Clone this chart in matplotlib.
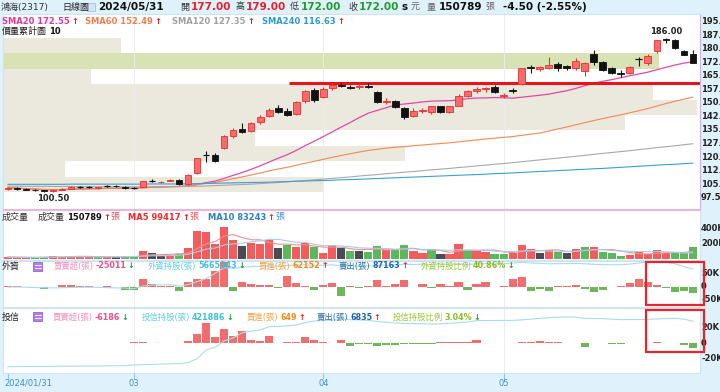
import numpy as np
import pandas as pd
import matplotlib
matplotlib.use("Agg")
import matplotlib.pyplot as plt
from matplotlib.patches import Rectangle

W, H = 720, 392
FAM = ["DejaVu Sans", "Noto Sans CJK TC"]

# 日K資料 2024/01/31 ~ 2024/05/31
opens = [102.5, 103.0, 102.5, 102.0, 101.5, 101.0, 101.5, 102.5, 103.5, 103.5,
         103.0, 104.0, 104.0, 103.5, 103.0, 103.5, 107.0, 106.0, 107.0, 107.5,
         105.0, 111.0, 121.0, 121.0, 125.0, 131.5, 135.5, 134.5, 139.5, 142.5,
         147.0, 145.5, 144.0, 151.0, 157.0, 153.0, 158.0, 160.0, 159.0, 158.5,
         159.5, 156.0, 150.5, 151.0, 147.0, 142.5, 145.5, 145.0, 148.0, 145.0,
         148.5, 154.0, 156.5, 157.5, 159.0, 154.0, 157.0, 160.5, 170.0, 168.5,
         169.5, 171.5, 170.5, 169.5, 167.5, 177.0, 172.5, 169.5, 166.5, 166.5,
         174.0, 172.0, 178.5, 185.5, 185.0, 178.5, 177.0]
highs = [103.5, 103.5, 103.0, 102.5, 102.0, 102.0, 103.0, 104.0, 104.0, 104.0,
         103.5, 104.5, 104.5, 104.0, 103.5, 107.0, 108.0, 107.0, 108.0, 108.0,
         110.5, 119.5, 123.5, 122.5, 132.0, 136.0, 139.0, 139.5, 143.0, 147.0,
         149.0, 147.0, 151.0, 157.0, 158.0, 158.5, 161.0, 161.5, 160.0, 160.5,
         161.0, 156.5, 152.5, 151.5, 147.5, 147.0, 147.0, 148.5, 148.5, 148.5,
         155.0, 157.0, 158.5, 159.0, 160.0, 155.5, 158.0, 169.5, 171.0, 170.5,
         175.5, 172.5, 171.0, 175.0, 172.5, 179.5, 173.0, 170.0, 168.0, 170.5,
         175.5, 177.0, 185.0, 186.0, 185.5, 179.0, 179.0]
lows = [102.0, 102.0, 101.5, 101.0, 100.8, 100.5, 101.5, 102.5, 103.0, 103.0,
        102.5, 103.5, 103.5, 102.5, 102.5, 103.5, 106.0, 105.5, 106.5, 104.5,
        104.5, 110.5, 117.5, 117.0, 124.5, 130.5, 133.5, 134.0, 138.5, 142.0,
        144.5, 142.5, 143.5, 150.0, 150.5, 152.5, 157.0, 158.5, 157.5, 157.5,
        158.0, 150.0, 149.5, 147.0, 141.0, 142.0, 144.5, 144.0, 144.5, 144.5,
        148.0, 153.0, 155.5, 156.0, 155.5, 152.5, 155.5, 160.0, 166.5, 167.5,
        168.5, 167.5, 168.0, 168.0, 165.0, 171.0, 167.5, 166.0, 164.5, 166.0,
        170.5, 171.0, 177.5, 183.0, 180.0, 176.5, 172.0]
closes = [103.0, 102.5, 102.0, 101.5, 101.0, 101.5, 102.5, 103.5, 103.5, 103.5,
          103.3, 104.0, 103.8, 103.0, 103.0, 106.5, 107.0, 106.3, 107.5, 105.0,
          110.0, 119.5, 121.0, 118.0, 131.5, 135.0, 134.0, 139.0, 142.0, 146.0,
          145.0, 143.5, 150.5, 156.5, 151.5, 157.5, 160.0, 159.5, 158.0, 159.5,
          158.5, 150.5, 151.0, 147.5, 142.0, 145.5, 146.0, 148.0, 145.0, 148.0,
          154.0, 156.5, 157.5, 158.0, 156.0, 154.5, 156.5, 169.0, 169.5, 170.0,
          171.0, 169.5, 169.5, 173.0, 172.0, 172.5, 168.0, 166.5, 166.0, 170.0,
          174.0, 176.0, 184.5, 185.0, 180.5, 176.5, 172.0]

sma120 = [103.9, 103.9, 103.8, 103.8, 103.8, 103.7, 103.7, 103.7, 103.6, 103.6,
          103.6, 103.5, 103.5, 103.5, 103.5, 103.5, 103.5, 103.5, 103.6, 103.6,
          103.7, 103.8, 104.0, 104.2, 104.4, 104.6, 104.8, 105.0, 105.3, 105.6,
          105.9, 106.3, 106.6, 107.0, 107.4, 107.8, 108.2, 108.6, 109.0, 109.5,
          109.9, 110.3, 110.8, 111.2, 111.6, 112.0, 112.4, 112.9, 113.3, 113.7,
          114.2, 114.6, 115.1, 115.5, 116.0, 116.4, 116.9, 117.4, 117.9, 118.4,
          118.9, 119.4, 119.9, 120.4, 120.9, 121.5, 122.0, 122.5, 123.0, 123.5,
          124.1, 124.6, 125.2, 125.7, 126.2, 126.8, 127.35]
sma240 = [104.9, 104.9, 104.9, 104.9, 104.9, 104.9, 104.9, 105.0, 105.0, 105.0,
          105.0, 105.0, 105.0, 105.0, 105.0, 105.0, 105.1, 105.1, 105.1, 105.1,
          105.2, 105.3, 105.4, 105.5, 105.6, 105.7, 105.8, 105.9, 106.0, 106.1,
          106.3, 106.4, 106.6, 106.7, 106.9, 107.0, 107.2, 107.4, 107.5, 107.7,
          107.9, 108.1, 108.3, 108.5, 108.7, 108.9, 109.1, 109.3, 109.5, 109.7,
          109.9, 110.1, 110.3, 110.5, 110.8, 111.0, 111.2, 111.5, 111.7, 112.0,
          112.2, 112.5, 112.7, 113.0, 113.2, 113.5, 113.7, 114.0, 114.3, 114.6,
          114.9, 115.2, 115.5, 115.8, 116.0, 116.3, 116.63]

# 成交量(千張) 與顏色 r漲 g跌 k平
volume = [25, 22, 18, 17, 30, 39, 30, 43, 30, 26, 22, 22, 30, 39, 30,
          104, 74, 43, 52, 65, 147, 364, 355, 199, 420, 247, 173, 212, 190, 247,
          139, 182, 152, 203, 160, 74, 182, 147, 108,
          100, 95, 173, 117, 117, 182, 104, 74, 130, 65, 61, 190, 117, 117, 95,
          65, 65, 74, 182, 130, 74, 117, 95, 74, 130, 160, 156, 95, 74, 43, 52,
          87, 65, 117, 82, 82, 74, 150.789]
vol_dir = ("rrrggrrrrrgrkgg"
           "rkkrgrrrrrrkrrrkgrrgrrkg"
           "kggrggrrgkrrgrrggrrrkrgkrgrgggrrrrrggg")

# 外資 買賣超(千張) / 持股(千張)
foreign_net = [2, 2, -3, -5, -8, -3, 4, 6, 3, 2,
               -2, 1, -2, -12, -12, 28, 10, 2, 1, -18,
               17, 31, 31, 63, 100, -16, 17, 10, 5, 5,
               -5, 41, 14, 3, -14, 7, 14, -36, 1, -5,
               2, 24, 1, 10, 27, -3, 10, -5, 8, 1,
               17, -14, 10, 17, -3, 3, 28, 38, -17, -11,
               -17, 2, 2, 5, -8, -20, -14, -3, 2, 14,
               28, 17, 7, -7, -23, -17, -25.011]
foreign_hold = [5476, 5478, 5476, 5472, 5470, 5468, 5470, 5473, 5475, 5476,
                5474, 5471, 5468, 5466, 5460, 5488, 5498, 5500, 5502, 5486,
                5503, 5534, 5566, 5622, 5680, 5672, 5685, 5692, 5695, 5698,
                5695, 5705, 5708, 5710, 5703, 5706, 5710, 5698, 5698, 5697,
                5698, 5706, 5706, 5709, 5716, 5714, 5717, 5714, 5717, 5717,
                5722, 5716, 5719, 5723, 5721, 5722, 5728, 5736, 5730, 5726,
                5721, 5722, 5723, 5725, 5722, 5716, 5712, 5711, 5712, 5718,
                5730, 5740, 5742, 5738, 5722, 5692, 5665.8]

# 投信 買賣超(千張)
trust_net = [0.3, 0.5, 0.2, 0.2, 0.1, 0.2, 0.3, 0.2, 0.1, 0.2,
             0.2, 0.3, 0.2, 0.3, 2.0, 1.5, 0.3, 1.0, 0.5, 0.8,
             3.0, 12.0, 26.0, 7.5, 19.0, 9.0, 15.5, 4.4, 3.5, 10.0,
             0.5, 2.0, 2.0, 7.5, 4.4, 2.0, 0.5, 4.4, -3.0, -0.5,
             -1.5, -3.0, -2.5, -2.0, -1.5, -0.3, -0.3, -1.5, 1.3, 1.3,
             2.0, 1.5, 4.4, 0.3, 0.2, 0.1, 0.2, 1.5, 2.0, 2.5,
             2.0, 1.5, 0.2, 0.3, -4.4, -0.2, -0.2, -1.5, -1.5, 0.2,
             0.2, 0.2, 1.5, 1.0, 1.0, -2.5, -6.186]
trust_hold_end = 421.886

# 價量累計圖 (由下而上 10 區, 千張)
profile_vol = [760, 147, 955, 600, 1480, 1650, 1545, 210, 1560, 280]

price_ticks = [195.0, 187.5, 180.0, 172.5, 165.0, 157.5, 150.0, 142.5,
               135.0, 127.5, 120.0, 112.5, 105.0, 97.5]
month_idx = [0, 14, 35, 55]
month_lbl = ["2024/01/31", "03", "04", "05"]

x = np.arange(len(closes))
RED, GRN = '#e8202a', '#1f9d2a'

fig = plt.figure(figsize=(7.2, 3.92), dpi=100)
fig.patch.set_facecolor('#dff1fb')
renderer = fig.canvas.get_renderer()


def px_axes(x0, y0, x1, y1):
    ax = fig.add_axes([x0 / W, 1 - y1 / H, (x1 - x0) / W, (y1 - y0) / H])
    ax.set_facecolor('white')
    ax.set_xticks([])
    ax.set_yticks([])
    for s in ax.spines.values():
        s.set_color('#cfe3f1')
        s.set_linewidth(0.8)
    ax.set_xlim(-0.55, 76.8)
    for m in month_idx[1:]:
        ax.axvline(m, color='#ececec', lw=0.7, zorder=0.6)
    return ax


def put(px, py, s, color='#333', size=6.0, bold=False, ha='left'):
    return fig.text(px / W, 1 - py / H, s, color=color, fontsize=size, ha=ha, va='center',
                    fontweight='bold' if bold else 'normal', family=FAM)


def after(t, s, color='#333', size=6.0, bold=False, gap=1.5):
    bb = t.get_window_extent(renderer)
    py = H - (bb.y0 + bb.y1) / 2
    return put(bb.x1 + gap, py, s, color, size, bold)


def rlabel(ax, v, s):
    ax.text(1.0015, v, s, transform=ax.get_yaxis_transform(), fontsize=6,
            fontweight='bold', color='#222', ha='left', va='center',
            clip_on=False, family=FAM)


# ---- 價格 ----
ax_p = px_axes(3, 14, 700, 209)
ax_p.set_ylim(91.24, 199.15)
ax_p.spines['right'].set_color('#cdb0e6')
ax_p.spines['bottom'].set_color('#e9b6da')

edges = np.linspace(min(lows), max(highs), 11)
pmax = max(profile_vol)
for k, pv in enumerate(profile_vol):
    hit = edges[k] <= closes[-1] < edges[k + 1]
    ax_p.barh(edges[k], pv / pmax * 77.0, height=edges[k + 1] - edges[k], left=-0.55,
              align='edge', color='#d9e2b4' if hit else '#ebe8de', zorder=0.5)

ax_p.plot(x, pd.Series(closes).rolling(20, min_periods=1).mean(), color='#e04aa6', lw=0.9, zorder=2)
ax_p.plot(x, pd.Series(closes).rolling(60, min_periods=1).mean(), color='#f08a55', lw=0.8, zorder=2)
ax_p.plot(x, sma120, color='#a8a8a8', lw=0.8, zorder=2)
ax_p.plot(x, sma240, color='#3aa0d0', lw=0.8, zorder=2)
ax_p.hlines(161.2, 31.2, 76.8, color='#e8141c', lw=2.2, zorder=2.5)

for i in x:
    o, h, l, c = opens[i], highs[i], lows[i], closes[i]
    up = c > o
    edge = '#e53030' if up else '#111'
    ax_p.vlines(i, l, h, color=edge, lw=0.8, zorder=3)
    if c == o:
        ax_p.hlines(c, i - 0.36, i + 0.36, color=edge, lw=0.9, zorder=3)
    else:
        ax_p.bar(i, abs(c - o), bottom=min(o, c), width=0.72, color='#f76b6b' if up else '#111',
                 edgecolor=edge, lw=0.6, zorder=3.1)

hi_i = int(np.argmax(highs))
lo_i = int(np.argmin(lows))
ax_p.annotate(f"{highs[hi_i]:.2f}", (hi_i, highs[hi_i]), xytext=(0, 1.5), textcoords='offset points',
              ha='center', va='bottom', fontsize=6, fontweight='bold', color='#222')
ax_p.annotate(f"{lows[lo_i]:.2f}", (lo_i, lows[lo_i]), xytext=(0, -1.5), textcoords='offset points',
              ha='center', va='top', fontsize=6, fontweight='bold', color='#222')
for t in price_ticks:
    rlabel(ax_p, t, f"{t:.1f}")

# ---- 成交量 ----
ax_v = px_axes(3, 210, 700, 260)
ax_v.set_ylim(-13, 636)
ax_v.spines['top'].set_color('#e9b6da')
cmap = {'r': '#f25c5c', 'g': '#5cb85c', 'k': '#4b4b55'}
ax_v.bar(x, volume, width=0.9, color=[cmap[d] for d in vol_dir], zorder=2)
ax_v.plot(x, pd.Series(volume).rolling(5, min_periods=1).mean(), color='#f09090', lw=0.8, zorder=3)
ax_v.plot(x, pd.Series(volume).rolling(10, min_periods=1).mean(), color='#a6cde8', lw=0.8, zorder=3)
rlabel(ax_v, 400, "400K")
rlabel(ax_v, 200, "200K")

# ---- 外資 ----
ax_f = px_axes(3, 261, 700, 307)
ax_f.set_ylim(-81, 100.8)
ax_f.bar(x, foreign_net, width=0.9, zorder=2,
         color=['#f26d6d' if v >= 0 else '#6fb55a' for v in foreign_net])
ax_f2 = ax_f.twinx()
ax_f2.set_ylim(5267.5, 5750.5)
ax_f2.axis('off')
ax_f2.plot(x, foreign_hold, color='#a8dcec', lw=0.8)
rlabel(ax_f, 50, "50K")
rlabel(ax_f, 0, "0")
rlabel(ax_f, -50, "-50K")

# ---- 投信 ----
ax_t = px_axes(3, 308, 700, 373)
ax_t.set_ylim(-38.3, 45.5)
ax_t.bar(x, trust_net, width=0.9, zorder=2,
         color=['#f26d6d' if v >= 0 else '#6fb55a' for v in trust_net])
trust_hold = trust_hold_end - (np.sum(trust_net) - np.cumsum(trust_net))
ax_t2 = ax_t.twinx()
lo_f, hi_f = (373 - 366.7) / 65, (373 - 317) / 65
span = (trust_hold.max() - trust_hold.min()) / (hi_f - lo_f)
lo = trust_hold.min() - lo_f * span
ax_t2.set_ylim(lo, lo + span)
ax_t2.axis('off')
ax_t2.plot(x, trust_hold, color='#a8dcec', lw=0.8)
rlabel(ax_t, 20, "20K")
rlabel(ax_t, 0, "0")
rlabel(ax_t, -20, "-20K")

# 紅框標註
for y0, y1 in [(262, 305), (310, 352)]:
    fig.add_artist(Rectangle((646 / W, 1 - y1 / H), 58 / W, (y1 - y0) / H, fill=False,
                             edgecolor='#e3262b', lw=1.6, transform=fig.transFigure))

# ---- 日期軸 ----
for m, lbl in zip(month_idx, month_lbl):
    px = 3 + (m + 0.55) / 77.35 * 697
    fig.add_artist(plt.Line2D([px / W, px / W], [1 - 374 / H, 1 - 378 / H], color='#9cc3e0',
                              lw=0.8, transform=fig.transFigure))
    if m == 0:
        put(4, 383, lbl, '#3b8dd0', 6)
    else:
        put(px, 383, lbl, '#3b8dd0', 6, ha='center')

# ---- 表頭 ----
HB, HC = 7.5, 6.5
put(1, 7, "鴻海(2317)", '#333', HC)
put(62, 7, "日線圖", '#222', HC)
fig.add_artist(Rectangle((87 / W, 1 - 11 / H), 8 / W, 8 / H, facecolor='#cfe6f7',
                         edgecolor='#9cc8e8', lw=0.6, transform=fig.transFigure))
put(98, 7, "2024/05/31", '#111', HB, True)
for lx, lab, val, vc in [(180, "開", "177.00", RED), (235, "高", "179.00", RED),
                         (290, "低", "172.00", GRN), (348, "收", "172.00", GRN)]:
    t = put(lx, 7, lab, '#333', HC)
    after(t, val, vc, HB, True, gap=2)
t = put(402, 7, "s", '#111', HB, True)
after(t, "元", '#666', HC, gap=2)
t = put(427, 7, "量", '#666', HC)
t = after(t, "150789", '#111', HB, True, gap=3)
t = after(t, "張", '#666', HC, gap=3)
after(t, "-4.50 (-2.55%)", '#111', HB, True, gap=8)

sma_items = [(2, "SMA20 172.55", '#e4379b'), (85, "SMA60 152.49", '#f07f4e'),
             (172, "SMA120 127.35", '#a0a0a0'), (262, "SMA240 116.63", '#2b9bd3')]
for px, s, c in sma_items:
    t = put(px, 21, s, c, 6, True)
    after(t, "↑", RED, 6, True, gap=2)
t = put(2, 31, "價量累計圖", '#222', 6.5)
after(t, "10", '#111', 6, True, gap=2)

put(2, 217, "成交量", '#333', 6.5)
put(38, 217, "成交量", '#333', 6.5)
t = put(67, 217, "150789", '#111', 6, True)
t = after(t, "↑", RED, 6, True)
after(t, "張", '#d9534f', 6.5, gap=0.5)
t = put(128, 217, "MA5 99417", '#ee2b2b', 6, True)
t = after(t, "↑", RED, 6, True)
after(t, "張", '#ee5b5b', 6.5, gap=0.5)
t = put(208, 217, "MA10 83243", '#2f7fc4', 6, True)
t = after(t, "↑", RED, 6, True)
after(t, "張", '#4a8fd0', 6.5, gap=0.5)


def chip_header(py, name, iy, items):
    put(2, py, name, '#222', 6.5)
    fig.add_artist(Rectangle((33 / W, 1 - (iy + 9) / H), 9 / W, 9 / H, facecolor='#b27ee8',
                             edgecolor='#8a4fd0', lw=0.5, transform=fig.transFigure))
    for yy in (iy + 3, iy + 6):
        fig.add_artist(plt.Line2D([34.5 / W, 40.5 / W], [1 - yy / H, 1 - yy / H], color='white',
                                  lw=0.6, transform=fig.transFigure))
    for lx, lab, lc, val, vc, up in items:
        tt = put(lx, py, lab, lc, 6)
        tt = after(tt, val, vc, 5.8, True, gap=1.5)
        after(tt, "↑" if up else "↓", RED if up else GRN, 5.8, True, gap=1.5)


chip_header(266, "外資", 262, [
    (54, "買賣超(張)", '#f48fb8', "-25011", '#ec4f8a', False),
    (148, "外資持股(張)", '#5ccfdf', "5665843", '#3fc1d5', False),
    (259, "買進(張)", '#f5a347', "62152", '#f08c1e', True),
    (339, "賣出(張)", '#2c6ea8', "87163", '#1f66a8', True),
    (421, "外資持股比例", '#9fc43a', "40.86%", '#8cb82b', False)])
chip_header(317, "投信", 312, [
    (53, "買賣超(張)", '#f48fb8', "-6186", '#ec4f8a', False),
    (142, "投信持股(張)", '#5ccfdf', "421886", '#3fc1d5', False),
    (247, "買進(張)", '#f5a347', "649", '#f08c1e', True),
    (317, "賣出(張)", '#2c6ea8', "6835", '#1f66a8', True),
    (393, "投信持股比例", '#9fc43a', "3.04%", '#8cb82b', False)])

fig.savefig("out.png", dpi=100, facecolor=fig.get_facecolor())
